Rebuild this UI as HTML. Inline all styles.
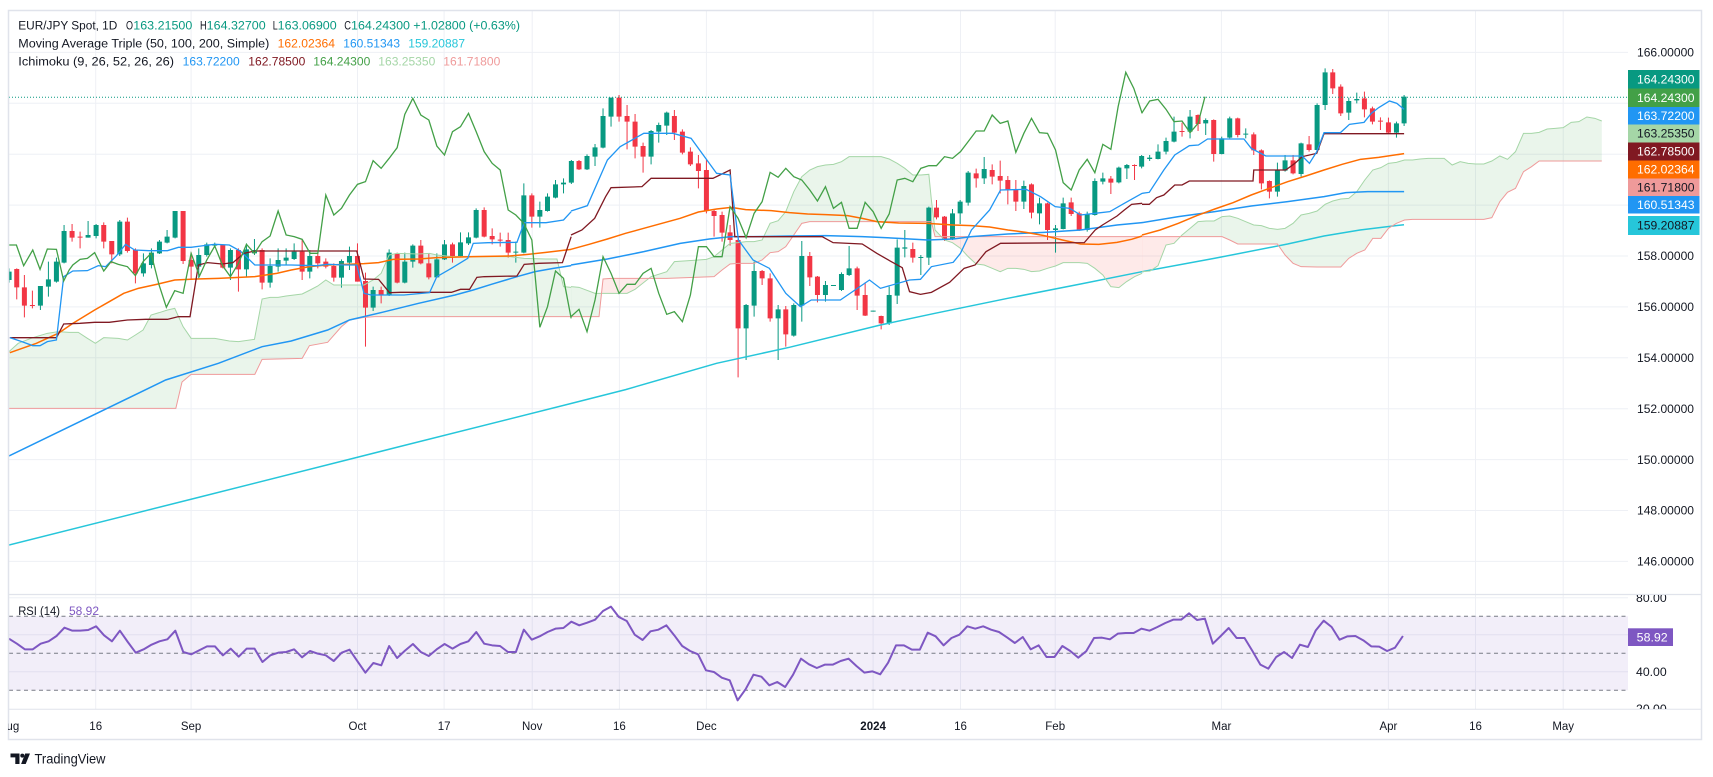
<!DOCTYPE html>
<html><head><meta charset="utf-8"><style>
html,body{margin:0;padding:0;background:#fff;}
body{width:1713px;height:777px;overflow:hidden;}
svg{display:block;font-family:"Liberation Sans",Arial,sans-serif;}
.nz{vector-effect:non-scaling-stroke;}
</style></head><body>
<svg width="1713" height="777" viewBox="0 0 1713 777" xmlns="http://www.w3.org/2000/svg">
<defs>
<clipPath id="cmain"><rect x="9" y="11" width="1619" height="583"/></clipPath>
<clipPath id="crsi"><rect x="9" y="595" width="1619" height="114"/></clipPath>
<clipPath id="crax"><rect x="1628" y="595" width="74" height="114"/></clipPath>
<clipPath id="ctax"><rect x="8" y="710" width="1620" height="29"/></clipPath>
</defs>
<rect x="0" y="0" width="1713" height="777" fill="#fff"/>

<!-- gridlines -->
<g stroke="#eef0f5" stroke-width="1">
<path d="M9 52.4H1628M9 103.3H1628M9 154.2H1628M9 205.1H1628M9 256H1628M9 306.9H1628M9 357.8H1628M9 408.7H1628M9 459.6H1628M9 510.5H1628M9 561.4H1628"/>
<path d="M95.7 11V709M191.1 11V709M357.5 11V709M444.1 11V709M532.2 11V709M619.4 11V709M706.4 11V709M873.1 11V709M960.5 11V709M1055.2 11V709M1221.4 11V709M1388.4 11V709M1475.5 11V709M1563.2 11V709"/>
<path d="M9 597.8H1628M9 634.8H1628M9 671.8H1628"/>
</g>

<!-- MAIN PANE -->
<g clip-path="url(#cmain)">
<!-- zoom10 group -->
<g transform="translate(0,80) scale(0.36403,0.33333)">
<polygon fill="#43a047" fill-opacity="0.11" points="24.7,815 50,790 90,773 130,760 160,755 190,757 215,757 240,775 262,790 285,773 325,775 350,780 372,765 393,750 415,705 437,698 460,690 480,685 503,740 525,775 590,775 630,783 655,785 699,778 720,657 742,652 764,652 786,648 808,645 830,642 852,630 873,618 895,600 917,615 938,615 1000,615 1025,600 1047,580 1069,525 1091,520 1150,522 1180,520 1200,525 1243,530 1290,530 1330,530 1400,530 1440,535 1500,537 1530,537 1548,620 1569,622 1569,710 1030,710 1000,712 960,720 938,740 900,787 850,797 830,835 720,838 700,883 525,883 500,906 483,985 24.7,985"/>
</g>
<g transform="translate(571,60) scale(0.36403,0.33333)">
<polygon fill="#43a047" fill-opacity="0.11" points="0,680 22,682 66,700 83.8,700 77,770 0,770"/>
<polygon fill="#f44336" fill-opacity="0.11" points="83.8,700 88,657 110,655 214.2,655 176,688 154,700"/>
<polygon fill="#43a047" fill-opacity="0.11" points="214.2,655 220,650 263,635 284,605 350,600 372,598 393,590 415,570 437,550 459,548 481,545 503,545 525,540 547,490 569,482 590,455 612,395 634,350 656,330 677,320 699,315 721,313 743,305 764,290 852,290 874,297 896,310 917,325 939,345 961,345 983,343 990,420 1000,510 1017.3,530 1000,530 990,485 656,485 634,490 612,525 590,560 569,575 547,578 525,600 503,610 459,610 437,612 415,630 393,650 263,655"/>
<polygon fill="#f44336" fill-opacity="0.11" points="1017.3,530 1569,530 1569,640 1548,650 1526,665 1505,683 1483,680 1461,645 1439,625 1418,610 1396,608 1374,608 1352,608 1331,618 1309,625 1287,633 1265,635 1244,628 1222,625 1200,625 1179,635 1157,625 1135,615 1113,612 1091,590 1070,565 1048,548 1026,540"/>
</g>
<g transform="translate(1142,55) scale(0.36403,0.33333)">
<polygon fill="#f44336" fill-opacity="0.11" points="0,545 105.6,545 88,565 66,570 44,632 22,648 0,650"/>
<polygon fill="#43a047" fill-opacity="0.11" points="105.6,545 110,540 132,520 154,500 176,498 198,498 220,485 241,483 263,490 285,500 307,510 328,512 350,520 372,523 393,520 415,505 437,480 459,475 481,468 503,448 524,438 546,432 568,430 590,410 612,375 634,345 656,338 677,325 699,322 721,315 743,315 764,312 786,310 808,310 830,310 852,330 874,320 896,325 917,327 939,327 961,318 983,303 1004,313 1026,290 1048,235 1070,235 1091,232 1113,222 1135,220 1157,218 1179,202 1200,200 1222,186 1244,190 1263,198 1263,318 1091,318 1070,335 1048,350 1026,400 1004,412 983,440 961,488 939,493 743,493 721,495 699,505 677,520 656,550 634,550 612,585 590,595 568,610 546,636 481,636 437,635 415,625 393,600 372,567 263,567 241,555 220,545"/>
</g>

<!-- Candles -->
<g transform="translate(0,80) scale(0.36403,0.33333)">
<path class="nz" fill="none" stroke="#089981" stroke-width="1" d="M25 565V608M111 618V690M133 545V650M155 533V608M176 435V550M242 423V473M264 432V475M329 420V528M394 520V590M416 505V565M438 480V522M459 450V490M481 393V475M546 505V595M568 488V530M590 488V500M633 505V600M677 490V590M699 477V525M742 535V623M764 505V575M786 505V555M808 490V540M851 510V595M938 538V623M960 500V570M1025 620V693M1069 508V648M1112 518V610M1134 493V563M1200 520V593M1221 480V540M1265 457V530M1287 457V495M1308 385V475M1417 485V548M1439 310V520M1483 365V443M1504 340V395M1526 300V355M1548 295V340"/>
<path fill="#089981" d="M18.13 575h13.74V600h-13.74zM104.13 618h13.74V677h-13.74zM126.13 598h13.74V620h-13.74zM148.13 545h13.74V605h-13.74zM169.13 453h13.74V548h-13.74zM235.13 465h13.74V473h-13.74zM257.13 435h13.74V468h-13.74zM322.13 425h13.74V523h-13.74zM387.13 550h13.74V580h-13.74zM409.13 518h13.74V555h-13.74zM431.13 485h13.74V520h-13.74zM452.13 470h13.74V488h-13.74zM474.13 393h13.74V473h-13.74zM539.13 525h13.74V560h-13.74zM561.13 493h13.74V525h-13.74zM583.13 492h13.74V497h-13.74zM626.13 510h13.74V563h-13.74zM670.13 508h13.74V568h-13.74zM692.13 510h13.74V520h-13.74zM735.13 558h13.74V608h-13.74zM757.13 540h13.74V560h-13.74zM779.13 533h13.74V542h-13.74zM801.13 515h13.74V537h-13.74zM844.13 528h13.74V575h-13.74zM931.13 543h13.74V593h-13.74zM953.13 528h13.74V548h-13.74zM1018.13 630h13.74V683h-13.74zM1062.13 518h13.74V645h-13.74zM1105.13 545h13.74V608h-13.74zM1127.13 497h13.74V545h-13.74zM1193.13 538h13.74V592h-13.74zM1214.13 493h13.74V538h-13.74zM1258.13 487h13.74V528h-13.74zM1280.13 472h13.74V490h-13.74zM1301.13 390h13.74V473h-13.74zM1410.13 515h13.74V518h-13.74zM1432.13 346h13.74V518h-13.74zM1476.13 390h13.74V410h-13.74zM1497.13 350h13.74V393h-13.74zM1519.13 313h13.74V353h-13.74zM1541.13 308h13.74V313h-13.74z"/>
<path class="nz" fill="none" stroke="#f23645" stroke-width="1" d="M46 565V658M67 585V712M89 632V685M198 432V485M220 455V505M285 427V505M307 483V550M350 413V518M372 505V610M503 393V552M525 517V598M612 493V565M655 505V635M720 505V628M830 478V600M873 520V565M895 535V565M917 550V605M982 490V605M1004 578V800M1047 620V670M1091 518V610M1156 480V553M1178 520V598M1243 488V548M1330 382V472M1352 445V493M1374 458V500M1396 458V533M1461 340V443"/>
<path fill="#f23645" d="M39.13 567h13.74V622h-13.74zM60.13 622h13.74V677h-13.74zM82.13 675h13.74V678h-13.74zM191.13 453h13.74V473h-13.74zM213.13 470h13.74V473h-13.74zM278.13 435h13.74V485h-13.74zM300.13 483h13.74V523h-13.74zM343.13 425h13.74V513h-13.74zM365.13 510h13.74V580h-13.74zM496.13 393h13.74V543h-13.74zM518.13 540h13.74V560h-13.74zM605.13 495h13.74V563h-13.74zM648.13 510h13.74V568h-13.74zM713.13 510h13.74V608h-13.74zM823.13 515h13.74V575h-13.74zM866.13 528h13.74V550h-13.74zM888.13 545h13.74V560h-13.74zM910.13 558h13.74V593h-13.74zM975.13 528h13.74V605h-13.74zM997.13 603h13.74V683h-13.74zM1040.13 630h13.74V645h-13.74zM1084.13 520h13.74V608h-13.74zM1149.13 497h13.74V550h-13.74zM1171.13 550h13.74V592h-13.74zM1236.13 493h13.74V528h-13.74zM1323.13 390h13.74V470h-13.74zM1345.13 468h13.74V478h-13.74zM1367.13 479h13.74V482h-13.74zM1389.13 480h13.74V518h-13.74zM1454.13 346h13.74V410h-13.74z"/>
</g>
<g transform="translate(571,60) scale(0.36403,0.33333)">
<path class="nz" fill="none" stroke="#089981" stroke-width="1" d="M1 300V372M44 283V330M66 252V318M88 145V265M110 113V200M220 210V313M241 188V248M263 155V225M481 732V900M503 605V770M569 735V900M612 730V830M634 543V785M699 663V725M721 675V678M743 637V693M764 558V648M830 752V755M874 680V795M896 538V732M917 510V592M961 585V645M983 440V615M1048 447V540M1069 420V492M1091 333V437M1135 291V372M1244 362V447M1287 413V493M1331 495V578M1352 413V508M1418 455V515M1439 355V467M1461 338V373M1505 320V370M1527 312V357"/>
<path fill="#089981" d="M-5.87 303h13.74V368h-13.74zM37.13 288h13.74V328h-13.74zM59.13 262h13.74V290h-13.74zM81.13 168h13.74V263h-13.74zM103.13 113h13.74V170h-13.74zM213.13 213h13.74V290h-13.74zM234.13 195h13.74V215h-13.74zM256.13 158h13.74V197h-13.74zM474.13 735h13.74V805h-13.74zM496.13 633h13.74V737h-13.74zM562.13 748h13.74V775h-13.74zM605.13 735h13.74V827h-13.74zM627.13 588h13.74V737h-13.74zM692.13 675h13.74V705h-13.74zM714.13 675h13.74V678h-13.74zM736.13 642h13.74V690h-13.74zM757.13 625h13.74V645h-13.74zM823.13 752h13.74V755h-13.74zM867.13 705h13.74V790h-13.74zM889.13 563h13.74V707h-13.74zM910.13 562h13.74V566h-13.74zM954.13 591h13.74V594h-13.74zM976.13 443h13.74V593h-13.74zM1041.13 460h13.74V538h-13.74zM1062.13 425h13.74V460h-13.74zM1084.13 338h13.74V428h-13.74zM1128.13 327h13.74V355h-13.74zM1237.13 378h13.74V425h-13.74zM1280.13 430h13.74V460h-13.74zM1324.13 505h13.74V510h-13.74zM1345.13 430h13.74V507h-13.74zM1411.13 462h13.74V510h-13.74zM1432.13 363h13.74V465h-13.74zM1454.13 355h13.74V365h-13.74zM1498.13 323h13.74V367h-13.74zM1520.13 315h13.74V325h-13.74z"/>
<path class="nz" fill="none" stroke="#f23645" stroke-width="1" d="M22 300V330M132 105V185M154 135V268M176 162V295M198 248V338M284 150V240M306 208V283M328 262V318M350 285V385M372 300V460M393 450V530M415 455V545M437 495V557M459 537V952M525 630V675M547 640V785M590 738V860M656 576V678M677 648V727M786 620V750M808 667V768M852 767V808M939 548V608M1004 420V478M1026 468V543M1113 326V383M1157 313V373M1179 302V400M1200 348V433M1222 360V453M1265 370V475M1309 428V540M1374 413V468M1396 455V513M1483 348V402M1548 313V360"/>
<path fill="#f23645" d="M15.13 303h13.74V328h-13.74zM125.13 113h13.74V170h-13.74zM147.13 168h13.74V185h-13.74zM169.13 185h13.74V260h-13.74zM191.13 258h13.74V290h-13.74zM277.13 168h13.74V218h-13.74zM299.13 215h13.74V278h-13.74zM321.13 275h13.74V313h-13.74zM343.13 310h13.74V333h-13.74zM365.13 330h13.74V453h-13.74zM386.13 453h13.74V468h-13.74zM408.13 465h13.74V518h-13.74zM430.13 517h13.74V540h-13.74zM452.13 540h13.74V805h-13.74zM518.13 633h13.74V655h-13.74zM540.13 655h13.74V775h-13.74zM583.13 748h13.74V823h-13.74zM649.13 588h13.74V652h-13.74zM670.13 650h13.74V705h-13.74zM779.13 625h13.74V707h-13.74zM801.13 705h13.74V767h-13.74zM845.13 768h13.74V790h-13.74zM932.13 567h13.74V593h-13.74zM997.13 443h13.74V472h-13.74zM1019.13 470h13.74V538h-13.74zM1106.13 340h13.74V355h-13.74zM1150.13 330h13.74V350h-13.74zM1172.13 348h13.74V362h-13.74zM1193.13 360h13.74V388h-13.74zM1215.13 387h13.74V425h-13.74zM1258.13 373h13.74V458h-13.74zM1302.13 430h13.74V510h-13.74zM1367.13 427h13.74V462h-13.74zM1389.13 460h13.74V510h-13.74zM1476.13 356h13.74V368h-13.74zM1541.13 315h13.74V318h-13.74z"/>
</g>
<g transform="translate(1142,55) scale(0.36403,0.33333)">
<path class="nz" fill="none" stroke="#089981" stroke-width="1" d="M-1 300V340M21 300V318M44 268V313M66 248V298M88 185V262M132 165V250M175 190V240M219 245V298M241 185V250M285 220V250M372 323V425M393 300V350M437 263V365M481 145V288M503 40V165M568 128V195M590 113V145M699 200V248M720 120V213"/>
<path fill="#089981" d="M-7.87 303h13.74V335h-13.74zM14.13 308h13.74V312h-13.74zM37.13 290h13.74V312h-13.74zM59.13 258h13.74V290h-13.74zM81.13 230h13.74V260h-13.74zM125.13 185h13.74V230h-13.74zM168.13 195h13.74V205h-13.74zM212.13 250h13.74V297h-13.74zM234.13 190h13.74V248h-13.74zM278.13 236h13.74V239h-13.74zM365.13 345h13.74V410h-13.74zM386.13 316h13.74V347h-13.74zM430.13 265h13.74V357h-13.74zM474.13 150h13.74V285h-13.74zM496.13 52h13.74V150h-13.74zM561.13 138h13.74V173h-13.74zM583.13 132h13.74V136h-13.74zM692.13 205h13.74V233h-13.74zM713.13 125h13.74V205h-13.74z"/>
<path class="nz" fill="none" stroke="#f23645" stroke-width="1" d="M110 203V245M154 178V228M197 193V320M263 188V247M307 232V300M328 283V403M350 376V430M415 300V358M459 243V290M524 42V117M546 88V183M611 110V187M633 155V208M655 187V225M677 188V237"/>
<path fill="#f23645" d="M103.13 228h13.74V231h-13.74zM147.13 180h13.74V207h-13.74zM190.13 195h13.74V297h-13.74zM256.13 190h13.74V240h-13.74zM300.13 238h13.74V286h-13.74zM321.13 286h13.74V385h-13.74zM343.13 378h13.74V410h-13.74zM408.13 316h13.74V355h-13.74zM452.13 268h13.74V285h-13.74zM517.13 52h13.74V100h-13.74zM539.13 95h13.74V175h-13.74zM604.13 130h13.74V163h-13.74zM626.13 160h13.74V200h-13.74zM648.13 197h13.74V200h-13.74zM670.13 202h13.74V233h-13.74z"/>
</g>

<!-- MA200 -->
<polyline fill="none" stroke="#26c6da" stroke-width="1.5" points="9,545 200,497 400,446.5 571,403.5 625.6,389.6 716.6,363.3 789.4,347.3 880.4,325 935,313.3 1007.8,298.3 1080.6,284 1142,271.7 1214.8,258.3 1287.6,244 1324,236 1360,230 1404,224.7"/>

<!-- Lines group 10 -->
<g transform="translate(0,80) scale(0.36403,0.33333)" fill="none">
<polyline class="nz" stroke="#a5d6a7" stroke-width="1" points="24.7,815 50,790 90,773 130,760 160,755 190,757 215,757 240,775 262,790 285,773 325,775 350,780 372,765 393,750 415,705 437,698 460,690 480,685 503,740 525,775 590,775 630,783 655,785 699,778 720,657 742,652 764,652 786,648 808,645 830,642 852,630 873,618 895,600 917,615 938,615 1000,615 1025,600 1047,580 1069,525 1091,520 1150,522 1180,520 1200,525 1243,530 1290,530 1330,530 1400,530 1440,535 1500,537 1530,537 1548,620 1569,622"/>
<polyline class="nz" stroke="#ef9a9a" stroke-width="1" points="24.7,985 483,985 500,906 525,883 700,883 720,838 830,835 850,797 900,787 938,740 960,720 1000,712 1030,710 1569,710"/>
<polyline class="nz" stroke="#2196f3" stroke-width="1.5" points="24.7,1128 455,900 600,850 720,800 800,783 900,750 960,720 1050,697 1150,670 1250,645 1300,630 1350,613 1420,590 1470,575 1520,565 1569,557"/>
<polyline class="nz" stroke="#ff6d00" stroke-width="1.5" points="27,818 100,790 160,760 200,730 260,690 300,665 340,640 380,625 430,613 480,600 540,597 600,595 700,590 760,580 800,570 850,560 900,555 950,553 1000,551 1040,548 1080,538 1150,537 1200,533 1300,530 1400,528 1450,523 1500,517 1569,508"/>
<polyline class="nz" stroke="#801922" stroke-width="1.3" points="27,773 155,773 175,732 220,730 260,727 300,727 350,720 400,718 460,718 490,710 522,710 545,555 570,548 610,552 640,548 670,520 700,513 980,513 1000,597 1040,598 1070,638 1100,637 1240,637 1265,628 1290,628 1310,592 1330,590 1420,588 1440,553 1480,550 1545,548 1569,470"/>
<polyline class="nz" stroke="#2196f3" stroke-width="1.3" points="27,773 60,785 90,797 110,797 130,785 155,780 175,590 200,573 240,572 270,557 290,560 320,527 345,493 370,510 410,512 460,512 490,502 525,502 560,497 590,493 630,495 660,513 700,555 760,555 800,555 870,557 900,553 950,555 980,555 1000,640 1020,645 1110,645 1180,638 1200,590 1240,565 1285,535 1300,490 1340,488 1420,487 1440,428 1500,428 1548,420 1569,395"/>
<polyline class="nz" stroke="#43a047" stroke-width="1.3" points="25,495 45,495 65,557 90,510 110,568 130,507 155,508 175,603 190,570 200,555 220,538 240,535 260,518 285,573 305,545 325,553 350,560 372,587 393,545 415,520 437,615 457,682 480,632 503,640 525,520 548,588 568,540 590,498 612,558 633,590 655,550 677,493 699,520 720,485 742,468 764,393 786,465 808,470 830,478 852,520 873,520 895,345 917,405 938,385 960,345 982,313 1004,305 1025,242 1047,265 1069,235 1091,203 1112,103 1134,55 1156,105 1178,120 1200,198 1221,225 1243,155 1265,140 1287,100 1308,155 1330,215 1352,250 1374,270 1396,390 1417,405 1439,430 1461,480 1483,742 1504,680 1526,573 1548,595 1569,715"/>
</g>
<!-- Lines group 11 -->
<g transform="translate(571,60) scale(0.36403,0.33333)" fill="none">
<polyline class="nz" stroke="#a5d6a7" stroke-width="1" points="0,680 22,682 66,700 154,700 176,688 220,650 263,635 284,605 350,600 372,598 393,590 415,570 437,550 459,548 481,545 503,545 525,540 547,490 569,482 590,455 612,395 634,350 656,330 677,320 699,315 721,313 743,305 764,290 852,290 874,297 896,310 917,325 939,345 961,345 983,343 990,420 1000,510 1026,540 1048,548 1070,565 1091,590 1113,612 1135,615 1157,625 1179,635 1200,625 1222,625 1244,628 1265,635 1287,633 1309,625 1331,618 1352,608 1374,608 1396,608 1418,610 1439,625 1461,645 1483,680 1505,683 1526,665 1548,650 1569,640"/>
<polyline class="nz" stroke="#ef9a9a" stroke-width="1" points="0,770 77,770 88,657 110,655 263,655 393,650 415,630 437,612 459,610 503,610 525,600 547,578 569,575 590,560 612,525 634,490 656,485 990,485 1000,530 1569,530"/>
<polyline class="nz" stroke="#2196f3" stroke-width="1.5" points="0,615 100,597 200,575 300,550 380,537 440,530 500,530 600,528 700,527 800,530 900,535 980,540 1050,537 1100,530 1200,522 1300,517 1400,510 1500,495 1569,488"/>
<polyline class="nz" stroke="#ff6d00" stroke-width="1.5" points="0,568 50,553 100,537 150,520 200,505 250,490 300,475 350,456 400,447 440,442 480,449 550,452 600,458 650,462 700,464 760,467 800,475 840,485 900,489 980,490 1050,495 1100,497 1150,501 1200,510 1250,517 1300,527 1350,540 1400,552 1450,553 1500,547 1540,538 1569,528"/>
<polyline class="nz" stroke="#801922" stroke-width="1.3" points="0,525 30,510 65,475 95,410 110,383 195,380 220,355 390,355 437,330 450,530 690,530 720,548 800,552 840,580 880,605 910,623 930,695 960,703 990,697 1040,667 1080,625 1110,615 1140,575 1180,550 1410,548 1440,510 1460,495 1500,468 1520,450 1540,433 1569,430"/>
<polyline class="nz" stroke="#2196f3" stroke-width="1.3" points="0,453 45,437 100,300 135,260 200,220 280,220 330,235 380,310 400,340 437,345 460,540 500,600 545,625 590,700 630,740 660,720 740,720 780,690 820,660 850,685 930,660 960,658 990,620 1050,607 1070,580 1100,510 1150,450 1180,390 1250,388 1290,410 1330,440 1370,445 1400,465 1440,460 1480,455 1520,430 1569,400"/>
<polyline class="nz" stroke="#43a047" stroke-width="1.3" points="0,770 22,748 44,815 66,720 88,590 110,640 132,700 154,673 176,673 198,640 220,625 241,700 263,763 284,755 306,785 328,705 350,560 372,560 393,590 415,590 437,440 459,475 481,533 503,460 525,425 547,337 569,352 590,325 612,350 634,360 656,390 677,423 699,380 721,445 743,427 764,505 786,505 808,427 830,455 852,505 874,462 896,360 917,355 939,365 961,325 983,317 1004,317 1026,290 1048,295 1070,275 1091,245 1113,213 1135,213 1157,165 1179,190 1200,183 1222,277 1244,220 1265,175 1287,218 1309,220 1331,270 1352,368 1374,390 1396,330 1418,298 1439,338 1461,253 1483,268 1503,140 1524,37 1546,85 1569,160"/>
</g>
<!-- Lines group 12 -->
<g transform="translate(1142,55) scale(0.36403,0.33333)" fill="none">
<polyline class="nz" stroke="#a5d6a7" stroke-width="1" points="0,650 22,648 44,632 66,570 88,565 110,540 132,520 154,500 176,498 198,498 220,485 241,483 263,490 285,500 307,510 328,512 350,520 372,523 393,520 415,505 437,480 459,475 481,468 503,448 524,438 546,432 568,430 590,410 612,375 634,345 656,338 677,325 699,322 721,315 743,315 764,312 786,310 808,310 830,310 852,330 874,320 896,325 917,327 939,327 961,318 983,303 1004,313 1026,290 1048,235 1070,235 1091,232 1113,222 1135,220 1157,218 1179,202 1200,200 1222,186 1244,190 1263,198"/>
<polyline class="nz" stroke="#ef9a9a" stroke-width="1" points="0,545 220,545 241,555 263,567 372,567 393,600 415,625 437,635 481,636 546,636 568,610 590,595 612,585 634,550 656,550 677,520 699,505 721,495 743,493 939,493 961,488 983,440 1004,412 1026,400 1048,350 1070,335 1091,318 1263,318"/>
<polyline class="nz" stroke="#2196f3" stroke-width="1.5" points="0,503 100,485 200,470 300,453 400,440 500,425 560,413 620,410 720,410"/>
<polyline class="nz" stroke="#ff6d00" stroke-width="1.5" points="0,540 50,525 100,505 150,482 200,462 250,443 300,420 350,400 400,380 450,363 500,345 550,328 600,313 650,307 720,296"/>
<polyline class="nz" stroke="#801922" stroke-width="1.3" points="0,448 20,448 40,428 60,420 90,390 110,390 130,378 305,378 307,345 395,345 420,325 440,305 480,295 500,236 720,236"/>
<polyline class="nz" stroke="#2196f3" stroke-width="1.3" points="0,415 20,412 60,345 90,300 130,272 155,270 180,252 280,252 300,280 340,303 440,303 460,325 480,290 500,233 545,233 570,208 610,202 630,175 650,158 680,138 700,145 720,163"/>
<polyline class="nz" stroke="#43a047" stroke-width="1.3" points="-1,175 21,138 44,133 66,163 88,200 110,198 132,233 154,205 173,125"/>
</g>
<!-- price line -->
<line x1="9" y1="97.2" x2="1628" y2="97.2" stroke="#089981" stroke-width="1" stroke-dasharray="1 2"/>
</g>

<!-- RSI PANE -->
<g clip-path="url(#crsi)">
<rect x="9" y="616.3" width="1619" height="74" fill="#7e57c2" fill-opacity="0.1"/>
<g stroke="#787b86" stroke-width="1" stroke-dasharray="4 3.5">
<line x1="9" y1="616.3" x2="1628" y2="616.3"/>
<line x1="9" y1="653.3" x2="1628" y2="653.3"/>
<line x1="9" y1="690.3" x2="1628" y2="690.3"/>
</g>
<g transform="translate(9,592) scale(7.92,0.33333)">
<polyline class="nz" fill="none" stroke="#7e57c2" stroke-width="2" stroke-linejoin="round" points="0,140 1,155 2,172 3,172 4,155 5,148 6,132 7,107 8,116 9,116 10,114 11,103 12,130 13,148 14,116 15,150 16,182 17,172 18,158 19,148 20,142 21,116 22,180 23,187 24,175 25,163 26,163 27,190 28,170 29,194 30,170 31,170 32,210 33,190 34,182 35,180 36,172 37,196 38,177 39,185 40,190 41,207 42,182 43,173 44,208 45,242 46,213 47,220 48,162 49,198 50,176 51,156 52,180 53,192 54,172 55,156 56,170 57,156 58,148 59,120 60,155 61,160 62,162 63,180 64,180 65,113 66,143 67,133 68,120 69,110 70,108 71,89 72,100 73,92 74,83 75,57 76,44 77,75 78,87 79,128 80,144 81,118 82,113 83,100 84,130 85,162 86,177 87,187 88,235 89,240 90,257 91,265 92,325 93,292 94,248 95,254 96,280 97,270 98,285 99,248 100,200 101,217 102,228 103,218 104,218 105,207 106,200 107,222 108,242 109,238 110,247 111,212 112,160 113,160 114,173 115,173 116,122 117,133 118,160 119,138 120,128 121,103 122,110 123,103 124,113 125,120 126,136 127,153 128,135 129,172 130,160 131,195 132,195 133,162 134,177 135,197 136,178 137,138 138,137 139,142 140,125 141,123 142,123 143,110 144,116 145,105 146,93 147,83 148,83 149,64 150,84 151,80 152,155 153,132 154,108 155,138 156,138 157,177 158,218 159,230 160,195 161,180 162,198 163,158 164,165 165,115 166,86 167,105 168,143 169,133 170,132 171,145 172,163 173,164 174,177 175,167 176,132"/>
</g>
</g>

<!-- separators and frame -->
<line x1="8" y1="594.5" x2="1702" y2="594.5" stroke="#e0e3eb" stroke-width="1.2"/>
<line x1="8" y1="709.3" x2="1702" y2="709.3" stroke="#e0e3eb" stroke-width="1"/>
<rect x="8.5" y="10.5" width="1693" height="729" fill="none" stroke="#e0e3eb" stroke-width="1.5"/>

<!-- Legend -->
<g font-size="11.5" fill="#131722">
<text x="18.3" y="29.3" textLength="99" lengthAdjust="spacingAndGlyphs">EUR/JPY Spot, 1D</text>
<text x="126" y="29.3" textLength="7" lengthAdjust="spacingAndGlyphs">O</text>
<text x="133.3" y="29.3" fill="#089981" textLength="59" lengthAdjust="spacingAndGlyphs">163.21500</text>
<text x="200" y="29.3" textLength="6.7" lengthAdjust="spacingAndGlyphs">H</text>
<text x="206.7" y="29.3" fill="#089981" textLength="59" lengthAdjust="spacingAndGlyphs">164.32700</text>
<text x="272.7" y="29.3" textLength="5" lengthAdjust="spacingAndGlyphs">L</text>
<text x="277.7" y="29.3" fill="#089981" textLength="59" lengthAdjust="spacingAndGlyphs">163.06900</text>
<text x="344.3" y="29.3" textLength="6.7" lengthAdjust="spacingAndGlyphs">C</text>
<text x="351" y="29.3" fill="#089981" textLength="59" lengthAdjust="spacingAndGlyphs">164.24300</text>
<text x="413.3" y="29.3" fill="#089981" textLength="106.7" lengthAdjust="spacingAndGlyphs">+1.02800 (+0.63%)</text>

<text x="18.3" y="47.5" textLength="251" lengthAdjust="spacingAndGlyphs">Moving Average Triple (50, 100, 200, Simple)</text>
<text x="277.7" y="47.5" fill="#ff6d00" textLength="57.3" lengthAdjust="spacingAndGlyphs">162.02364</text>
<text x="343.3" y="47.5" fill="#2196f3" textLength="56.7" lengthAdjust="spacingAndGlyphs">160.51343</text>
<text x="408.3" y="47.5" fill="#26c6da" textLength="56.7" lengthAdjust="spacingAndGlyphs">159.20887</text>

<text x="18.3" y="65.3" textLength="155.7" lengthAdjust="spacingAndGlyphs">Ichimoku (9, 26, 52, 26, 26)</text>
<text x="182.7" y="65.3" fill="#2196f3" textLength="57" lengthAdjust="spacingAndGlyphs">163.72200</text>
<text x="248.3" y="65.3" fill="#801922" textLength="57" lengthAdjust="spacingAndGlyphs">162.78500</text>
<text x="313.3" y="65.3" fill="#43a047" textLength="57" lengthAdjust="spacingAndGlyphs">164.24300</text>
<text x="378.3" y="65.3" fill="#a5d6a7" textLength="57" lengthAdjust="spacingAndGlyphs">163.25350</text>
<text x="443.3" y="65.3" fill="#ef9a9a" textLength="57" lengthAdjust="spacingAndGlyphs">161.71800</text>

<text x="18.2" y="615" textLength="41.8" lengthAdjust="spacingAndGlyphs">RSI (14)</text>
<text x="69" y="615" fill="#7e57c2" textLength="30" lengthAdjust="spacingAndGlyphs">58.92</text>
</g>

<!-- Price axis labels -->
<g font-size="11.5" fill="#131722">
<text x="1637" y="56.6" textLength="57" lengthAdjust="spacingAndGlyphs">166.00000</text>
<text x="1637" y="260.2" textLength="57" lengthAdjust="spacingAndGlyphs">158.00000</text>
<text x="1637" y="311.1" textLength="57" lengthAdjust="spacingAndGlyphs">156.00000</text>
<text x="1637" y="362" textLength="57" lengthAdjust="spacingAndGlyphs">154.00000</text>
<text x="1637" y="412.9" textLength="57" lengthAdjust="spacingAndGlyphs">152.00000</text>
<text x="1637" y="463.8" textLength="57" lengthAdjust="spacingAndGlyphs">150.00000</text>
<text x="1637" y="514.7" textLength="57" lengthAdjust="spacingAndGlyphs">148.00000</text>
<text x="1637" y="565.6" textLength="57" lengthAdjust="spacingAndGlyphs">146.00000</text>
</g>
<g font-size="11.5">
<rect x="1628" y="70" width="71.5" height="18.5" fill="#089981"/>
<text x="1637" y="83.3" fill="#fff" textLength="57.5" lengthAdjust="spacingAndGlyphs">164.24300</text>
<rect x="1628" y="88.5" width="71.5" height="18.5" fill="#43a047"/>
<text x="1637" y="101.8" fill="#fff" textLength="57.5" lengthAdjust="spacingAndGlyphs">164.24300</text>
<rect x="1628" y="107" width="71.5" height="17.5" fill="#2196f3"/>
<text x="1637" y="119.8" fill="#fff" textLength="57.5" lengthAdjust="spacingAndGlyphs">163.72200</text>
<rect x="1628" y="124.5" width="71.5" height="18" fill="#a5d6a7"/>
<text x="1637" y="137.6" fill="#131722" textLength="57.5" lengthAdjust="spacingAndGlyphs">163.25350</text>
<rect x="1628" y="142.5" width="71.5" height="18" fill="#801922"/>
<text x="1637" y="155.6" fill="#fff" textLength="57.5" lengthAdjust="spacingAndGlyphs">162.78500</text>
<rect x="1628" y="160.5" width="71.5" height="18" fill="#ff6d00"/>
<text x="1637" y="173.6" fill="#fff" textLength="57.5" lengthAdjust="spacingAndGlyphs">162.02364</text>
<rect x="1628" y="178.5" width="71.5" height="17.5" fill="#ef9a9a"/>
<text x="1637" y="191.3" fill="#131722" textLength="57.5" lengthAdjust="spacingAndGlyphs">161.71800</text>
<rect x="1628" y="196" width="71.5" height="17.5" fill="#2196f3"/>
<text x="1637" y="208.8" fill="#fff" textLength="57.5" lengthAdjust="spacingAndGlyphs">160.51343</text>
<rect x="1628" y="216" width="71.5" height="19" fill="#26c6da"/>
<text x="1637" y="229.6" fill="#131722" textLength="57.5" lengthAdjust="spacingAndGlyphs">159.20887</text>
</g>

<!-- RSI axis -->
<g clip-path="url(#crax)" font-size="11.5" fill="#131722">
<text x="1636" y="602" textLength="30.7" lengthAdjust="spacingAndGlyphs">80.00</text>
<text x="1636" y="676" textLength="30.7" lengthAdjust="spacingAndGlyphs">40.00</text>
<text x="1636" y="713" textLength="30.7" lengthAdjust="spacingAndGlyphs">20.00</text>
</g>
<rect x="1628" y="628.3" width="45" height="17.7" fill="#7e57c2"/>
<text x="1636.7" y="641.3" font-size="11.5" fill="#fff" textLength="31" lengthAdjust="spacingAndGlyphs">58.92</text>

<!-- Time axis -->
<g clip-path="url(#ctax)" font-size="11.5" fill="#131722" text-anchor="middle">
<text x="9" y="730">Aug</text>
<text x="95.7" y="730">16</text>
<text x="191.1" y="730">Sep</text>
<text x="357.5" y="730">Oct</text>
<text x="444.1" y="730">17</text>
<text x="532.2" y="730">Nov</text>
<text x="619.4" y="730">16</text>
<text x="706.4" y="730">Dec</text>
<text x="873.1" y="730" font-weight="bold">2024</text>
<text x="960.5" y="730">16</text>
<text x="1055.2" y="730">Feb</text>
<text x="1221.4" y="730">Mar</text>
<text x="1388.4" y="730">Apr</text>
<text x="1475.5" y="730">16</text>
<text x="1563.2" y="730">May</text>
</g>

<!-- TradingView logo -->
<g fill="#131722">
<path d="M10.5 753.5h9v10.5h-4.2v-6.6h-4.8z"/>
<circle cx="22.3" cy="755.6" r="2"/>
<path d="M25.2 753.5h4.8l-4.3 10.5h-4.6z"/>
<text x="34.5" y="763.5" font-size="13.5" textLength="71" lengthAdjust="spacingAndGlyphs">TradingView</text>
</g>
</svg>
</body></html>
